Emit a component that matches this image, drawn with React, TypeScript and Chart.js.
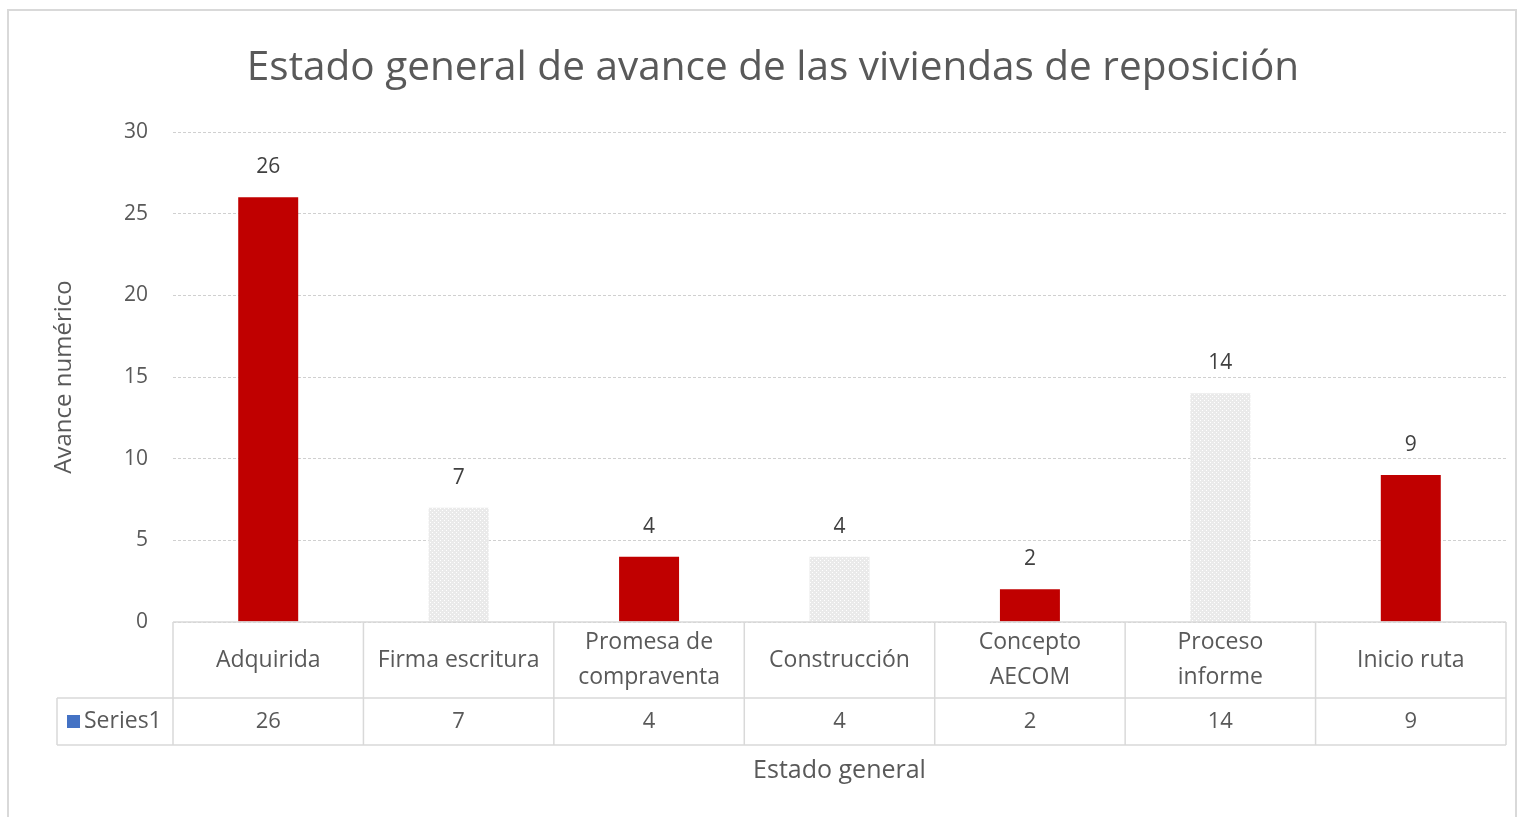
import React, { useEffect, useRef } from "react";
import { Chart, registerables } from "chart.js";

Chart.register(...registerables);

const chartTitle = "Estado general de avance de las viviendas de reposición";
const categories: (string | string[])[] = [
  "Adquirida",
  "Firma escritura",
  ["Promesa de", "compraventa"],
  "Construcción",
  ["Concepto", "AECOM"],
  ["Proceso", "informe"],
  "Inicio ruta",
];
const seriesName = "Series1";
const values = [26, 7, 4, 4, 2, 14, 9];
const barKinds = ["red", "gray", "red", "gray", "red", "gray", "red"];
const yTitle = "Avance numérico";
const xTitle = "Estado general";
const yMin = 0;
const yMax = 30;
const yStep = 5;

const FONT = "'Open Sans', 'Noto Sans', sans-serif";
const TEXT = "#595959";
const LINE = "#D9D9D9";

function makePattern(): CanvasPattern | string {
  const c = document.createElement("canvas");
  c.width = 4;
  c.height = 4;
  const g = c.getContext("2d");
  if (!g) return "#EEEEEE";
  g.fillStyle = "#EAEAEA";
  g.fillRect(0, 0, 4, 4);
  g.fillStyle = "#FFFFFF";
  g.fillRect(0, 0, 1, 1);
  g.fillRect(2, 2, 1, 1);
  const p = g.createPattern(c, "repeat");
  return p || "#EEEEEE";
}

const framePlugin = {
  id: "frame",
  beforeDraw(chart: any) {
    const ctx = chart.ctx;
    ctx.save();
    ctx.fillStyle = "#FFFFFF";
    ctx.fillRect(0, 0, chart.width, chart.height);
    ctx.strokeStyle = LINE;
    ctx.lineWidth = 2;
    ctx.strokeRect(8, 10, 1508, 830);
    ctx.fillStyle = TEXT;
    ctx.font = `40.5px ${FONT}`;
    ctx.textAlign = "center";
    ctx.textBaseline = "middle";
    ctx.fillText(chartTitle, 773, 68);
    ctx.restore();
  },
};

const labelsPlugin = {
  id: "valueLabels",
  afterDatasetsDraw(chart: any) {
    const ctx = chart.ctx;
    const meta = chart.getDatasetMeta(0);
    ctx.save();
    ctx.fillStyle = "#404040";
    ctx.font = `21px ${FONT}`;
    ctx.textAlign = "center";
    ctx.textBaseline = "middle";
    meta.data.forEach((el: any, i: number) => {
      ctx.fillText(String(values[i]), el.x, el.y - 30);
    });
    ctx.restore();
  },
};

const tablePlugin = {
  id: "dataTable",
  afterDraw(chart: any) {
    const ctx = chart.ctx;
    const area = chart.chartArea;
    const xs = chart.scales.x;
    const n = categories.length;
    const cw = (area.right - area.left) / n;
    const top = area.bottom;
    const mid = top + 76;
    const bot = top + 123;
    const legLeft = 57;
    ctx.save();
    ctx.strokeStyle = LINE;
    ctx.lineWidth = 1.5;
    ctx.beginPath();
    ctx.moveTo(area.left, top);
    ctx.lineTo(area.right, top);
    ctx.moveTo(legLeft, mid);
    ctx.lineTo(area.right, mid);
    ctx.moveTo(legLeft, bot);
    ctx.lineTo(area.right, bot);
    for (let i = 0; i <= n; i++) {
      const x = area.left + i * cw;
      ctx.moveTo(x, top);
      ctx.lineTo(x, bot);
    }
    ctx.moveTo(legLeft, mid);
    ctx.lineTo(legLeft, bot);
    ctx.stroke();

    ctx.fillStyle = TEXT;
    ctx.font = `23px ${FONT}`;
    ctx.textAlign = "center";
    ctx.textBaseline = "middle";
    categories.forEach((c, i) => {
      const x = xs.getPixelForValue(i);
      const lines = Array.isArray(c) ? c : [c];
      const lh = 35;
      const cy = top + 38;
      lines.forEach((ln, j) => {
        ctx.fillText(ln, x, cy + (j - (lines.length - 1) / 2) * lh);
      });
    });
    ctx.font = `22px ${FONT}`;
    categories.forEach((_c, i) => {
      const x = xs.getPixelForValue(i);
      ctx.fillText(String(values[i]), x, mid + 24);
    });
    ctx.fillStyle = "#4472C4";
    ctx.fillRect(67, mid + 17, 13, 13);
    ctx.fillStyle = TEXT;
    ctx.textAlign = "left";
    ctx.font = `23px ${FONT}`;
    ctx.fillText(seriesName, 84, mid + 23);
    ctx.textAlign = "center";
    ctx.font = `25px ${FONT}`;
    ctx.fillText(xTitle, (area.left + area.right) / 2, bot + 26);
    ctx.restore();
  },
};

export default function App() {
  const ref = useRef<HTMLCanvasElement | null>(null);
  useEffect(() => {
    if (!ref.current) return;
    const pattern = makePattern();
    const colors = barKinds.map((k) => (k === "red" ? "#C00000" : pattern));
    const chart = new Chart(ref.current, {
      type: "bar",
      data: {
        labels: categories as any,
        datasets: [
          {
            label: seriesName,
            data: values,
            backgroundColor: colors as any,
            borderWidth: 0,
            barPercentage: 0.315,
            categoryPercentage: 1,
          },
        ],
      },
      options: {
        animation: false,
        responsive: false,
        events: [],
        layout: { padding: { left: 40, right: 13, top: 132, bottom: 195 } },
        plugins: {
          legend: { display: false },
          title: { display: false },
          tooltip: { enabled: false },
        },
        scales: {
          x: {
            display: true,
            ticks: { display: false },
            grid: { display: false, drawTicks: false },
            border: { display: false },
            afterFit(scale: any) {
              scale.height = 0;
            },
          },
          y: {
            min: yMin,
            max: yMax,
            ticks: {
              stepSize: yStep,
              padding: 25,
              color: TEXT,
              font: { family: FONT, size: 21 },
            },
            grid: {
              color: "#D0D0D0",
              drawTicks: false,
              lineWidth: 1,
            },
            border: { display: false, dash: [3, 2] },
            title: {
              display: true,
              text: yTitle,
              color: TEXT,
              font: { family: FONT, size: 24 },
              padding: { top: 10, bottom: 0 },
            },
            afterFit(scale: any) {
              scale.width = 133;
            },
          },
        },
      },
      plugins: [framePlugin, labelsPlugin, tablePlugin],
    });
    return () => chart.destroy();
  }, []);
  return (
    <div style={{ position: "fixed", left: 0, top: 0, width: 1519, height: 817 }}>
      <canvas ref={ref} width={1519} height={817} />
    </div>
  );
}
